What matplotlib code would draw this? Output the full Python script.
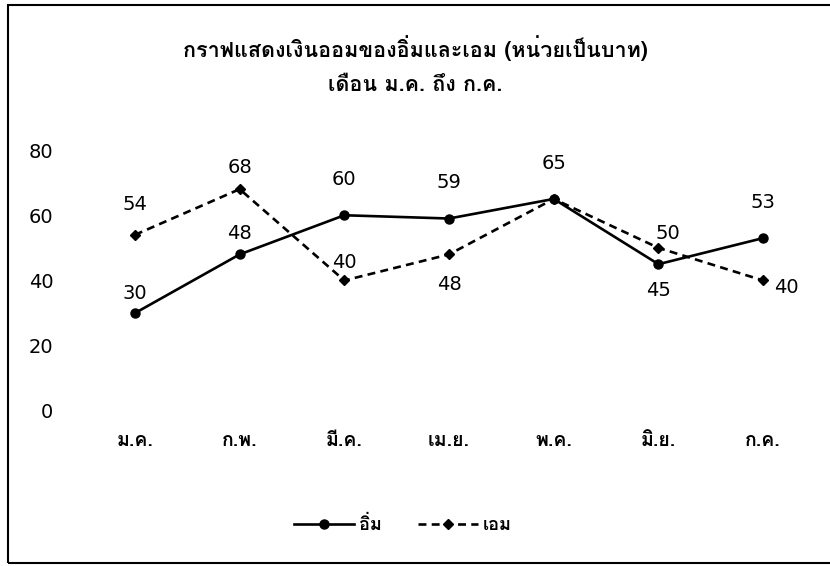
import matplotlib
matplotlib.use("Agg")
import matplotlib.pyplot as plt
from matplotlib import font_manager
from matplotlib.patches import Rectangle


def find_thai():
    fams = []
    try:
        from fontTools.ttLib import TTFont
    except Exception:
        return fams
    for f in font_manager.fontManager.ttflist:
        try:
            kw = {}
            if f.fname.lower().endswith(('.ttc', '.otc')):
                kw['fontNumber'] = 0
            t = TTFont(f.fname, lazy=True, **kw)
            cmap = t.getBestCmap()
            if cmap and 0x0E01 in cmap and f.name not in fams:
                fams.append(f.name)
        except Exception:
            pass
    return fams


months = ["ม.ค.", "ก.พ.", "มี.ค.", "เม.ย.", "พ.ค.", "มิ.ย.", "ก.ค."]
im_values = [30, 48, 60, 59, 65, 45, 53]
em_values = [54, 68, 40, 48, 65, 50, 40]
yticks = [0, 20, 40, 60, 80]
title1 = "กราฟแสดงเงินออมของอิ่มและเอม (หน่วยเป็นบาท)"
title2 = "เดือน ม.ค. ถึง ก.ค."
series_names = ["อิ่ม", "เอม"]

found = find_thai()
pref = [f for f in ["Loma"] if f in found] + [f for f in found if f not in ("Loma", "Unifont", "Unifont-JP", "Unifont Sample")]
thai_fam = (pref[:1] if pref else found[:1]) + ["DejaVu Sans"]
num_fam = ["DejaVu Sans"] + thai_fam[:1]
plt.rcParams['font.family'] = num_fam

fig = plt.figure(figsize=(8.3, 5.66), dpi=100)
ax = fig.add_axes([82.6 / 830, 1 - 425 / 566, 732.9 / 830, (425 - 133.7) / 566])
x = list(range(len(months)))
ax.plot(x, im_values, '-', color='black', lw=1.9, marker='o', ms=6.5, label=series_names[0])
ax.plot(x, em_values, '--', color='black', lw=1.9, marker='D', ms=5.5, dashes=(3, 2), label=series_names[1])
ax.set_xlim(-0.5, 6.5)
ax.set_ylim(-4.3, 85)
ax.set_yticks(yticks)
ax.set_xticks(x)
ax.set_xticklabels(months, fontsize=14, fontweight='bold', family=thai_fam)
ax.tick_params(length=0)
ax.tick_params(axis='y', pad=21, labelsize=14)
ax.tick_params(axis='x', pad=5)
for s in ax.spines.values():
    s.set_visible(False)

im_off = [(0, 14.4), (0, 15.4), (0, 25.4), (0, 25.6), (0, 25.8), (0, -18.6), (0, 25.3)]
em_off = [(0, 21.5), (0, 15.9), (0, 13.3), (0, -22), None, (7, 10.7), (17, -4.7)]
for vals, offs in ((im_values, im_off), (em_values, em_off)):
    for i, v in enumerate(vals):
        if offs[i] is None:
            continue
        dx, dy = offs[i]
        ax.annotate(str(v), (i, v), xytext=(dx, dy), textcoords='offset points',
                    ha='center', va='center', fontsize=14)

fig.text(0.5, 1 - 48 / 566, title1, ha='center', va='center', fontsize=15.5,
         fontweight='bold', family=thai_fam)
fig.text(0.5, 1 - 85 / 566, title2, ha='center', va='center', fontsize=15.5,
         fontweight='bold', family=thai_fam)
fig.legend(loc='center', bbox_to_anchor=(403 / 830, 1 - 525 / 566), ncol=2, frameon=False,
           prop={'family': thai_fam, 'size': 13, 'weight': 'bold'},
           handlelength=3.3, columnspacing=2.0, handletextpad=0.3)

fig.patches.append(Rectangle((8 / 830, 3 / 566), 1.2, 1 - 8 / 566, transform=fig.transFigure,
                             fill=False, edgecolor='black', lw=1.5))
fig.savefig("out.png", dpi=100)
